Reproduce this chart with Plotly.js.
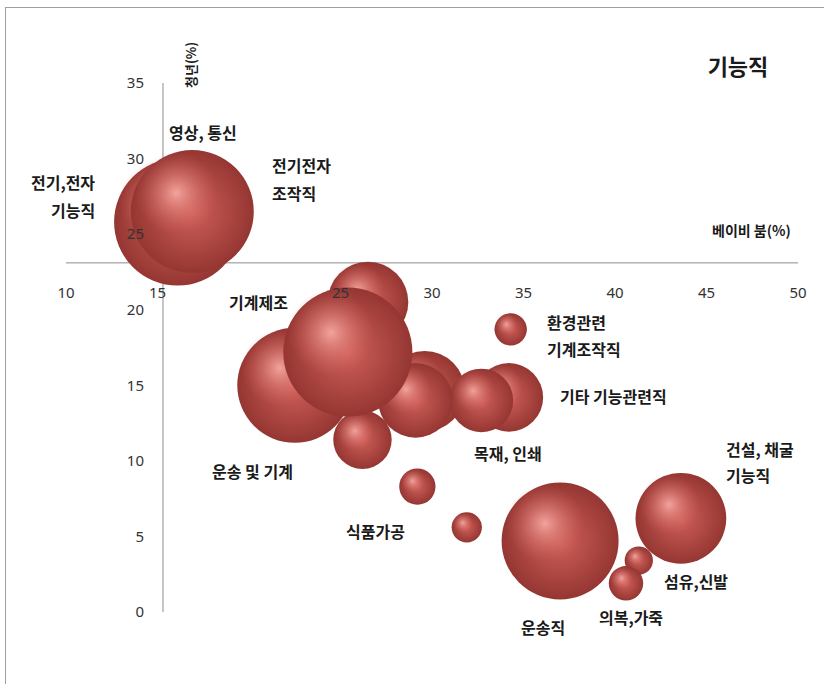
<!DOCTYPE html>
<html><head><meta charset="utf-8">
<script src="https://cdn.plot.ly/plotly-3.0.1.min.js"></script>
<style>
html,body{margin:0;padding:0;overflow:hidden;background:#fff}
#chart{width:824px;height:684px}
#frame{position:absolute;left:5px;top:7px;width:1000px;height:1000px;border:1px solid #a0a0a0;pointer-events:none;z-index:5}
</style></head>
<body><div id="chart"></div><div id="frame"></div>
<script>
// ---- data (draw order: earlier = behind) ----
const jobs = ['영상, 통신','전기,전자 기능직','전기전자 조작직','운송 및 기계','기계 관련(1)','기능 관련(2)','기능 관련(3)','기계제조','기계 관련(4)','기타 기능관련직','목재, 인쇄','환경관련 기계조작직','식품가공','기능 관련(5)','운송직','건설, 채굴 기능직','섬유,신발','의복,가죽'];
const babyBoom = [16.8,16.1,16.9,22.5,26.2,29.6,29.1,26.5,25.4,34.2,32.7,34.3,29.2,31.9,37.0,43.6,41.3,40.6];
const youth    = [26.7,25.8,26.5,15.0,11.4,14.6,14.0,20.5,17.2,14.2,14.0,18.7,8.3,5.6,4.7,6.2,3.4,1.9];
const employment = [61,96.9,90.8,79.3,20.5,39.1,33.4,39.1,100,28.2,24.2,6.3,7.9,5.5,82.1,49.4,4.8,7.1];
// x tick "20" is hidden behind the 기계제조 label in the reference
const xTicks = [10,15,25,30,35,40,45,50];
const yTicks = [0,5,10,15,20,25,30,35];

// ---- layout geometry ----
const W=824,H=684,M={l:66,r:26,t:83,b:72};
const plotW=W-M.l-M.r, plotH=H-M.t-M.b;
const xRange=[10,50], yRange=[0,35];
const crossY=23.1, crossX=15.3;
const pxX=plotW/(xRange[1]-xRange[0]), pxY=plotH/(yRange[1]-yRange[0]);
const SIZEREF=0.012;

const traces=[];
for(let i=0;i<jobs.length;i++){
  const r=Math.sqrt(employment[i]/(2*SIZEREF));
  traces.push({type:'scatter',mode:'markers',x:[babyBoom[i]],y:[youth[i]],text:[jobs[i]],hoverinfo:'text',
    showlegend:false,cliponaxis:false,
    marker:{size:[employment[i]],sizemode:'area',sizeref:SIZEREF,color:'#953632',opacity:1,
      gradient:{type:'radial',color:'#cf5f59'},line:{width:0}}});
  traces.push({type:'scatter',mode:'markers',x:[babyBoom[i]-0.26*r/pxX],y:[youth[i]+0.3*r/pxY],hoverinfo:'skip',
    showlegend:false,cliponaxis:false,
    marker:{size:[employment[i]*0.45],sizemode:'area',sizeref:SIZEREF,color:'rgba(210,98,92,0)',opacity:1,
      gradient:{type:'radial',color:'rgba(246,168,162,0.95)'},line:{width:0}}});
}

const FK='"Noto Sans CJK KR", "Noto Sans", sans-serif';
function lbl(text,px,py,xa,extra){
  return Object.assign({text:text,xref:'paper',yref:'paper',x:(px-M.l)/plotW,y:(H-M.b-py)/plotH,
    xanchor:xa||'center',yanchor:'middle',showarrow:false,
    font:{family:FK,size:16,color:'#1a1a1a',weight:'bold'}},extra||{});
}
const annotations=[
  lbl('영상, 통신',203,132),
  lbl('전기,전자',97,182,'right'),
  lbl('기능직',97,210,'right'),
  lbl('전기전자',270,165,'left'),
  lbl('조작직',270,193,'left'),
  lbl('기계제조',258,302,'center',{bgcolor:'#ffffff',borderpad:3}),
  lbl('운송 및 기계',252,471),
  lbl('환경관련',545,322,'left'),
  lbl('기계조작직',545,349,'left'),
  lbl('기타 기능관련직',558,396,'left'),
  lbl('목재, 인쇄',508,453),
  lbl('식품가공',375,531),
  lbl('건설, 채굴',724,449,'left'),
  lbl('기능직',724,475,'left'),
  lbl('섬유,신발',662,581,'left'),
  lbl('의복,가죽',597,617,'left'),
  lbl('운송직',543,627),
  lbl('베이비 붐(%)',793,230,'right',{font:{family:FK,size:14,color:'#1a1a1a',weight:'bold'}}),
  lbl('청년(%)',191,65,'center',{textangle:-90,font:{family:FK,size:13,color:'#1a1a1a',weight:'bold'}})
];

const tickFont={family:'"Noto Sans", "Open Sans", sans-serif',size:15,color:'#333'};
const layout={
  width:W,height:H,margin:M,paper_bgcolor:'#fff',plot_bgcolor:'rgba(0,0,0,0)',
  title:{text:'기능직',x:738/W,y:1-67/H,xanchor:'center',yanchor:'middle',xref:'container',yref:'container',
    font:{family:FK,size:22,color:'#1a1a1a',weight:'bold'}},
  xaxis:{range:xRange,showline:false,showgrid:false,zeroline:false,ticks:'',
    tickmode:'array',tickvals:xTicks,ticktext:xTicks.map(String),tickfont:tickFont,ticklabelstandoff:19,
    anchor:'free',position:(crossY-yRange[0])/(yRange[1]-yRange[0]),side:'bottom',layer:'above traces'},
  yaxis:{range:yRange,showline:false,showgrid:false,zeroline:false,ticks:'',
    tickmode:'array',tickvals:yTicks,ticktext:yTicks.map(String),tickfont:tickFont,ticklabelstandoff:19,
    anchor:'free',position:(crossX-xRange[0])/(xRange[1]-xRange[0]),side:'left',layer:'above traces'},
  shapes:[
    {type:'line',xref:'x domain',x0:0,x1:1,yref:'y',y0:crossY,y1:crossY,layer:'below',line:{color:'#8c8c8c',width:1}},
    {type:'line',xref:'x',x0:crossX,x1:crossX,yref:'y domain',y0:0,y1:1,layer:'below',line:{color:'#8c8c8c',width:1}}
  ],
  annotations:annotations,
  hovermode:'closest'
};
Plotly.newPlot('chart',traces,layout,{displayModeBar:false});
</script></body></html>
